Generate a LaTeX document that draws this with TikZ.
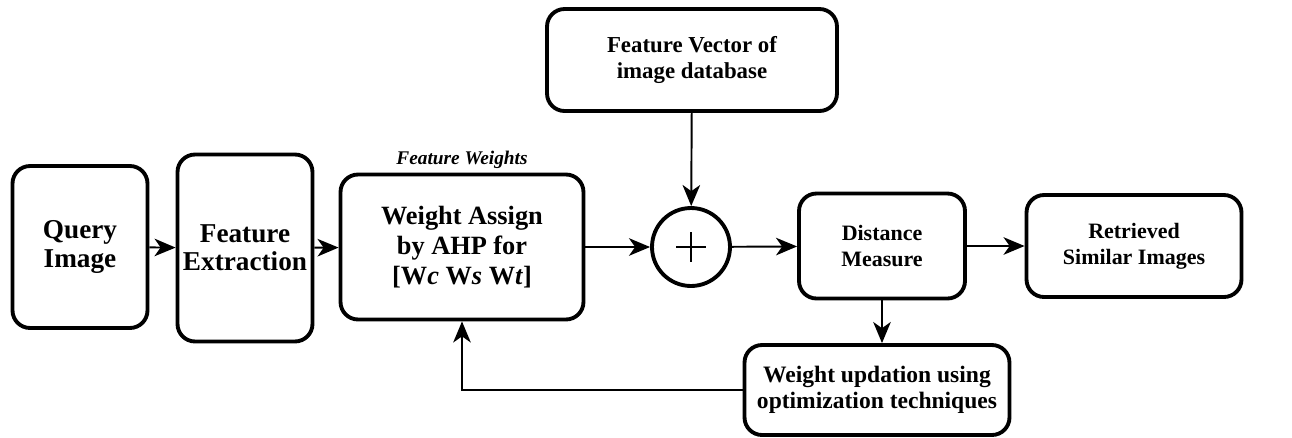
\documentclass[tikz,border=0pt]{standalone}
\usepackage{fontspec}
\setmainfont{Liberation Serif}[BoldFont={Liberation Serif Bold},BoldItalicFont={Liberation Serif Bold Italic}]
\usetikzlibrary{arrows.meta,calc}

\begin{document}
\begin{tikzpicture}[x=0.02cm,y=-0.02cm,
    blk/.style={draw,line width=2.2pt,rounded corners=0.35cm,align=center,
        font=\bfseries,inner sep=0pt},
    link/.style={line width=1.1pt,-{Stealth[length=12pt,width=10pt,inset=3.5pt]}}]

\useasboundingbox (0,0) rectangle (1292,437);

%blocks
\node[blk,minimum width=2.7cm,minimum height=3.24cm,font=\bfseries\fontsize{15.5}{16}\selectfont]
    (query) at (80,247) {Query\\Image};
\node[blk,minimum width=2.7cm,minimum height=3.74cm,font=\bfseries\fontsize{15.5}{16}\selectfont]
    (fext) at (245,248) {Feature\\Extraction};
\node[blk,minimum width=4.86cm,minimum height=2.9cm,font=\bfseries\fontsize{15}{17}\selectfont]
    (assign) at (462,247) {Weight Assign\\by AHP for\\{}[W\textit{c} W\textit{s} W\textit{t}]};
\node[font=\bfseries\itshape\fontsize{11}{12}\selectfont] (fw) at (462,160) {Feature Weights};
\node[blk,minimum width=5.8cm,minimum height=2.04cm,font=\bfseries\fontsize{13}{14.6}\selectfont]
    (fvec) at (692,60) {Feature Vector of\\image database};
\node[draw,circle,line width=2.2pt,minimum size=1.56cm,inner sep=0pt] (sum) at (691,247) {};
\node[blk,minimum width=3.32cm,minimum height=2.1cm,font=\bfseries\fontsize{12.5}{15}\selectfont]
    (dist) at (882,246) {Distance\\Measure};
\node[blk,minimum width=4.3cm,minimum height=2.04cm,font=\bfseries\fontsize{12.5}{15}\selectfont]
    (retr) at (1134,246) {Retrieved\\Similar Images};
\node[blk,minimum width=5.3cm,minimum height=1.8cm,font=\bfseries\fontsize{13.4}{14.7}\selectfont]
    (upd) at (877,390) {Weight updation using\\optimization techniques};

%plus sign
\draw[line width=1.1pt] ($(sum)+(-15,0)$) -- ($(sum)+(15,0)$);
\draw[line width=1.1pt] ($(sum)+(0,-15)$) -- ($(sum)+(0,15)$);

%arrows
\draw[link] (query) -- (fext);
\draw[link] (fext) -- (assign);
\draw[link] (assign) -- (sum);
\draw[link] (fvec) -- (sum);
\draw[link] (sum) -- (dist);
\draw[link] (dist) -- (retr);
\draw[link] (dist.south) -- (dist.south |- upd.north);
\draw[link] (upd.west) -| (assign.south);

\end{tikzpicture}
\end{document}
